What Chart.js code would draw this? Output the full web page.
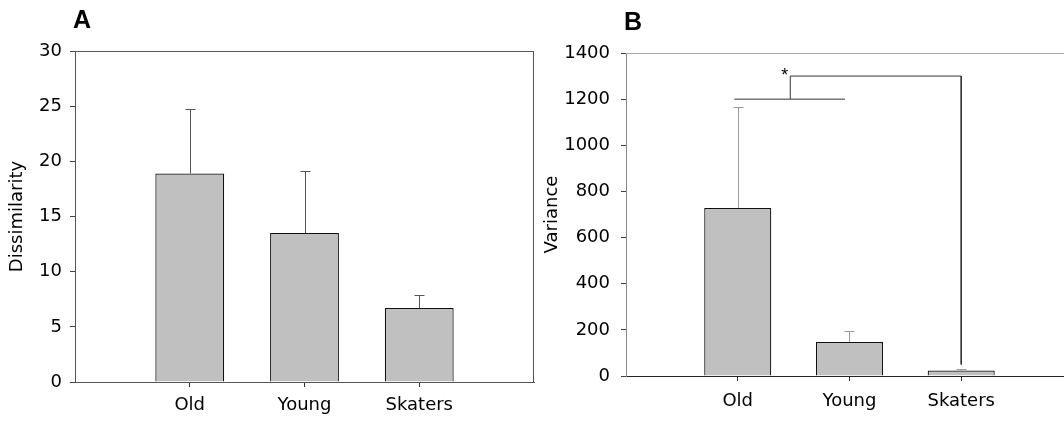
<!DOCTYPE html>
<html>
<head>
<meta charset="utf-8">
<script src="https://cdn.jsdelivr.net/npm/chart.js@4.4.1/dist/chart.umd.min.js"></script>
<style>
  html, body { margin: 0; padding: 0; background: #fff; overflow: hidden; }
  #wrapA { position: absolute; left: 0; top: 0; width: 545px; height: 423px; }
  #wrapB { position: absolute; left: 535px; top: 0; width: 529px; height: 423px; }
</style>
</head>
<body>
<div id="wrapA"><canvas id="chartA"></canvas></div>
<div id="wrapB"><canvas id="chartB"></canvas></div>
<script>
const categories = ['Old', 'Young', 'Skaters'];

// panel A
const dissimilarity = [18.9, 13.5, 6.7];
const dissimilarityErr = [5.8, 5.6, 1.2];
const ticksA = { max: 30, step: 5 };

// panel B
const variance = [728, 147, 24];
const varianceErr = [437, 48, 6];
const ticksB = { max: 1400, step: 200 };

// significance bracket (data units)
const bracketLowX = [0.97, 1.96];
const bracketLowY = [1200, 1200];
const bracketHighX = [1.47, 1.47, 3, 3];
const bracketHighY = [1200, 1300, 1300, 50];
const sigLabel = '*';

const FONT = 'DejaVu Sans';
const BAR_FILL = '#c0c0c0';

Chart.defaults.font.family = FONT;
Chart.defaults.font.size = 18;
Chart.defaults.color = '#000';

const errorBars = {
  id: 'errorBars',
  afterDatasetsDraw(chart, args, opts) {
    const ctx = chart.ctx;
    const x = chart.scales.x, y = chart.scales.y;
    ctx.save();
    ctx.strokeStyle = opts.color;
    ctx.lineWidth = 1;
    opts.means.forEach((m, i) => {
      const px = Math.round(x.getPixelForValue(i + 1)) + 0.5;
      const top = Math.round(y.getPixelForValue(m + opts.errors[i])) + 0.5;
      const base = y.getPixelForValue(m);
      ctx.beginPath();
      ctx.moveTo(px, base);
      ctx.lineTo(px, top);
      ctx.moveTo(px - 5, top);
      ctx.lineTo(px + 5, top);
      ctx.stroke();
    });
    ctx.restore();
  }
};

const frame = {
  id: 'frame',
  afterDraw(chart, args, opts) {
    const { ctx, chartArea } = chart;
    ctx.save();
    ctx.lineWidth = 1;
    ctx.strokeStyle = opts.color;
    const t = Math.round(chartArea.top) + 0.5;
    const r = Math.round(chartArea.right) - 0.5;
    ctx.beginPath();
    ctx.moveTo(chartArea.left, t);
    ctx.lineTo(chartArea.right, t);
    if (opts.right) {
      ctx.moveTo(r, chartArea.top);
      ctx.lineTo(r, chartArea.bottom);
    }
    ctx.stroke();
    // panel letter
    ctx.fillStyle = '#000';
    ctx.font = 'bold 25px "Liberation Sans"';
    ctx.textBaseline = 'alphabetic';
    ctx.textAlign = 'left';
    ctx.fillText(opts.letter, chartArea.left - 2, chartArea.top - 23);
    // significance mark
    if (opts.star) {
      const px = chart.scales.x.getPixelForValue(bracketHighX[1]);
      const py = chart.scales.y.getPixelForValue(bracketHighY[1]);
      ctx.font = '18px "Liberation Sans"';
      ctx.textAlign = 'right';
      ctx.fillText(sigLabel, px - 2, py + 5);
    }
    ctx.restore();
  }
};

function makePanel(id, values, errs, yTicks, yTitle, cfg) {
  const datasets = [{
    type: 'bar',
    data: values.map((v, i) => ({ x: i + 1, y: v })),
    backgroundColor: BAR_FILL,
    borderColor: '#111',
    borderWidth: 1.2,
    barPercentage: 0.6,
    categoryPercentage: 1
  }];
  if (cfg.bracket) {
    [[bracketLowX, bracketLowY], [bracketHighX, bracketHighY]].forEach(([xs, ys]) => {
      datasets.push({
        type: 'line',
        data: xs.map((xv, i) => ({ x: xv, y: ys[i] })),
        borderColor: '#333',
        borderWidth: 1,
        pointRadius: 0,
        tension: 0,
        fill: false
      });
    });
  }
  return new Chart(document.getElementById(id), {
    type: 'bar',
    data: { datasets: datasets },
    options: {
      responsive: true,
      maintainAspectRatio: false,
      animation: false,
      layout: { padding: { left: 0, top: cfg.top, right: cfg.right, bottom: 0 } },
      plugins: {
        legend: { display: false },
        tooltip: { enabled: false },
        errorBars: { means: values, errors: errs, color: cfg.errColor },
        frame: { color: cfg.frameColor, right: cfg.frameRight, letter: cfg.letter, star: cfg.bracket }
      },
      scales: {
        x: {
          type: 'linear',
          offset: false,
          min: 0,
          max: cfg.xMax,
          afterBuildTicks: (s) => { s.ticks = categories.map((c, i) => ({ value: i + 1 })); },
          afterFit: (s) => { s.height = cfg.xHeight; },
          ticks: {
            padding: cfg.xPad,
            maxRotation: 0,
            autoSkip: false,
            callback: (v) => categories[v - 1] || ''
          },
          grid: { offset: false, drawOnChartArea: false, tickLength: 5, color: '#333' },
          border: { color: cfg.bottomColor, width: 1 }
        },
        y: {
          min: 0,
          max: yTicks.max,
          afterFit: (s) => { s.width = cfg.yWidth; },
          ticks: { stepSize: yTicks.step, padding: cfg.yPad, callback: (v) => String(v) },
          title: { display: true, text: yTitle, padding: { top: 7, bottom: 0 }, font: { size: 18 } },
          grid: { drawOnChartArea: false, tickLength: 5, color: '#444' },
          border: { color: cfg.leftColor, width: 1 }
        }
      }
    },
    plugins: [errorBars, frame]
  });
}

makePanel('chartA', dissimilarity, dissimilarityErr, ticksA, 'Dissimilarity', {
  top: 51, right: 11, yWidth: 75, xHeight: 41, xMax: 4, xPad: 8, yPad: 8,
  errColor: '#555', frameColor: '#555', frameRight: true, letter: 'A',
  leftColor: '#555', bottomColor: '#555', bracket: false
});

makePanel('chartB', variance, varianceErr, ticksB, 'Variance', {
  top: 53, right: 0, yWidth: 91, xHeight: 47, xMax: 3.92, xPad: 10, yPad: 11,
  errColor: '#999', frameColor: '#aaa', frameRight: false, letter: 'B',
  leftColor: '#888', bottomColor: '#222', bracket: true
});
</script>
</body>
</html>
